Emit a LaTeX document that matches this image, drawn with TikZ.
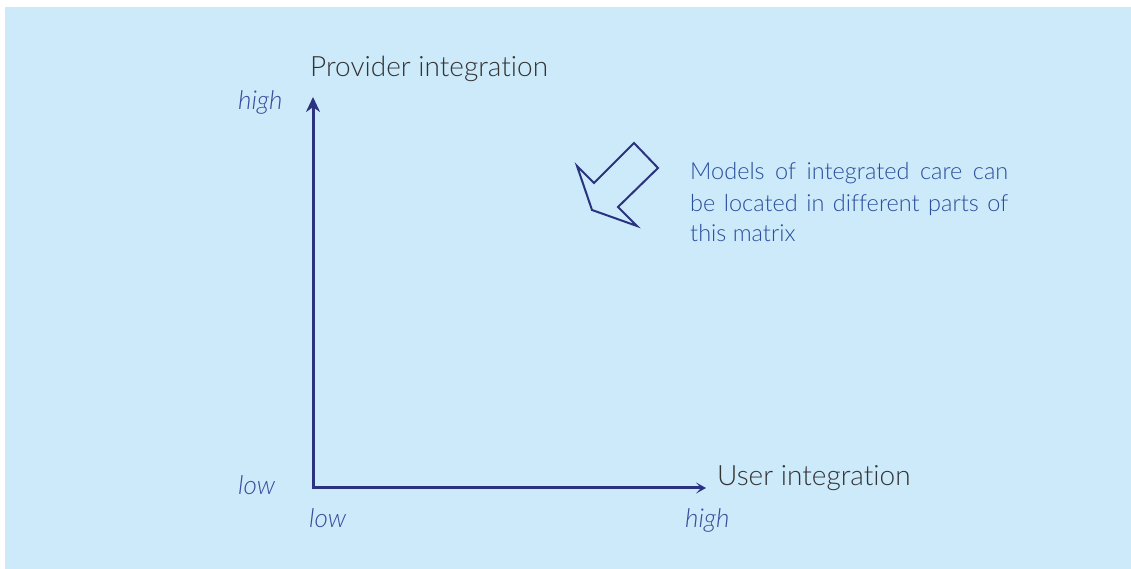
\documentclass[tikz,border=0pt]{standalone}
\usepackage{fontspec}
\setmainfont{Lato}[UprightFont=* Light, ItalicFont=* Light Italic, Ligatures=NoCommon]
\usetikzlibrary{arrows.meta}
\definecolor{bgblue}{HTML}{CCEAFA}
\definecolor{axisblue}{HTML}{2B3380}
\definecolor{labblue}{HTML}{3B4A9A}
\definecolor{txtblue}{HTML}{2A4D9C}
\definecolor{txtgrey}{HTML}{333333}
\tikzset{
  axis/.style={axisblue, line width=3pt},
  axtitle/.style={anchor=base west, inner sep=0pt, text=txtgrey, font=\fontsize{28}{32}\selectfont},
  axlab/.style={anchor=base west, inner sep=0pt, text=labblue, font=\fontsize{26}{30}\selectfont\itshape},
  note/.style={anchor=base west, inner sep=0pt, text=txtblue, font=\fontsize{23.5}{28}\selectfont},
  pointer/.style={axisblue, line width=2pt, line join=miter}
}
\begin{document}
\begin{tikzpicture}[x=1pt,y=1pt]
\useasboundingbox (0,0) rectangle (1131,569);
\fill[bgblue] (5,0) rectangle (1131,562);
\coordinate (O) at (313,81);
\coordinate (Ytop) at (313,472);
\coordinate (Xend) at (706,81);
\draw[axis, -{Stealth[length=15pt,width=14pt]}] (O) -- (Ytop);
\draw[axis, -{Stealth[length=10pt,width=11pt,inset=5pt]}] ([xshift=-1.5pt]O) -- (Xend);
\node[axtitle] (ptitle) at (310,492) {Provider integration};
\node[axtitle] (utitle) at (717,83) {User integration};
\node[axlab] (yhigh) at (238,459) {high};
\node[axlab] (ylow) at (238,74) {low};
\node[axlab] (xlow) at (309,41) {low};
\node[axlab] (xhigh) at (685,41) {high};
\node[note] (n1) at (690,389) {\makebox[318pt][s]{Models of integrated care can}};
\node[note] (n2) at (690,357) {\makebox[318pt][s]{be located in different parts of}};
\node[note] (n3) at (690,327) {this matrix};
\draw[pointer] (634,426) -- (658,401) -- (618,362) -- (637,343) -- (592,359) -- (577,403) -- (594,386) -- cycle;
\end{tikzpicture}
\end{document}
